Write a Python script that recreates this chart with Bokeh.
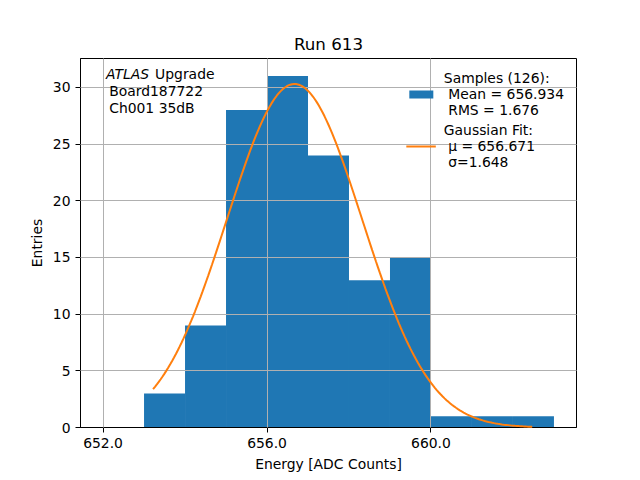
import numpy as np
from bokeh.plotting import figure
from bokeh.models import Label, Legend, LegendItem, FixedTicker, NumeralTickFormatter, Range1d
from bokeh.embed import file_html
from bokeh.resources import INLINE

# Histogram data
bin_edges = [652, 653, 654, 655, 656, 657, 658, 659, 660, 661, 662, 663]
counts = [0, 3, 9, 28, 31, 24, 13, 15, 1, 1, 1]

# Gaussian fit parameters
fit_mu = 656.671
fit_sigma = 1.648
fit_amp = 30.3
fit_x_range = [653.22, 662.47]

x_ticks = [652.0, 656.0, 660.0]
y_ticks = [0, 5, 10, 15, 20, 25, 30]

FONT = "DejaVu Sans"

p = figure(width=624, height=472, output_backend="svg", toolbar_location=None,
           x_range=Range1d(651.45, 663.55), y_range=Range1d(0, 32.55))
p.min_border_left = 80
p.min_border_right = 48
p.min_border_top = 58
p.min_border_bottom = 45
p.frame_width = 496
p.frame_height = 369

p.title.text = "Run 613"
p.title.align = "center"
p.title.text_font = FONT
p.title.text_font_size = "16.7px"
p.title.text_font_style = "normal"
p.title.text_color = "black"

p.outline_line_color = "black"
p.outline_line_width = 1

for ax in (p.xaxis[0], p.yaxis[0]):
    ax.axis_line_color = "black"
    ax.major_tick_line_color = "black"
    ax.major_tick_out = 5
    ax.major_tick_in = 0
    ax.minor_tick_out = 0
    ax.minor_tick_in = 0
    ax.major_label_text_font = FONT
    ax.major_label_text_font_size = "13.9px"
    ax.major_label_text_color = "black"
    ax.axis_label_text_font = FONT
    ax.axis_label_text_font_size = "13.9px"
    ax.axis_label_text_font_style = "normal"
    ax.axis_label_text_color = "black"

p.xaxis[0].ticker = FixedTicker(ticks=x_ticks)
p.xaxis[0].formatter = NumeralTickFormatter(format="0.0")
p.yaxis[0].ticker = FixedTicker(ticks=y_ticks)
p.xaxis[0].axis_label = "Energy [ADC Counts]"
p.yaxis[0].axis_label = "Entries"

for g in (p.xgrid[0], p.ygrid[0]):
    g.grid_line_color = "#b0b0b0"
    g.grid_line_width = 1
    g.level = "guide"

bars = p.quad(left=bin_edges[:-1], right=bin_edges[1:], top=counts, bottom=0,
              fill_color="#1f77b4", line_color=None)

fx = np.linspace(fit_x_range[0], fit_x_range[1], 200)
fy = fit_amp * np.exp(-0.5 * ((fx - fit_mu) / fit_sigma) ** 2)
line = p.line(fx, fy, line_color="#ff7f0e", line_width=2)
line.level = "annotation"

legend = Legend(items=[
    LegendItem(label="Samples (126):\n Mean = 656.934\n RMS = 1.676", renderers=[bars]),
    LegendItem(label="Gaussian Fit:\n μ = 656.671\n σ=1.648", renderers=[line]),
], location="top_right")
legend.border_line_alpha = 0
legend.background_fill_alpha = 0
legend.label_text_font = FONT
legend.label_text_font_size = "13.9px"
legend.label_text_color = "black"
legend.glyph_width = 30
legend.glyph_height = 10
legend.label_standoff = 8
legend.padding = 0
legend.margin = 12
legend.spacing = 4
p.add_layout(legend)

def lab(x, y, t, style="normal"):
    p.add_layout(Label(x=x, y=y, text=t, text_font=FONT, text_font_size="13.9px",
                       text_font_style=style, text_baseline="middle", text_align="left",
                       text_color="black"))

lab(652.073, 31.15, "ATLAS", "italic")
lab(653.27, 31.15, "Upgrade")
lab(652.15, 29.65, "Board187722")
lab(652.15, 28.15, "Ch001 35dB")

open("out.html", "w").write(file_html(p, INLINE))
